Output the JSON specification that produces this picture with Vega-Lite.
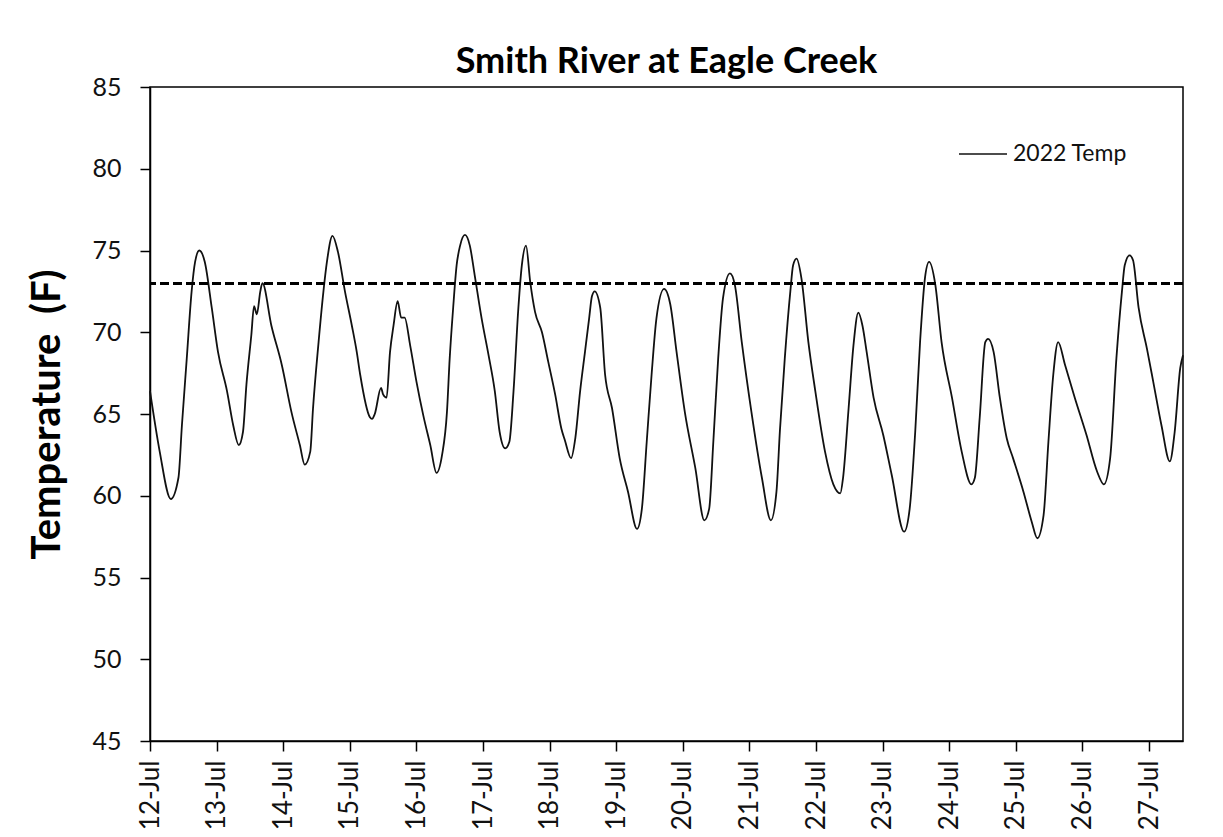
{
  "$schema": "https://vega.github.io/schema/vega-lite/v6.json",
  "width": 1033,
  "height": 654,
  "autosize": {"type": "none"},
  "padding": {"left": 150, "top": 87, "right": 40, "bottom": 96},
  "background": "white",
  "title": {"text": "Smith River at Eagle Creek", "fontSize": 36, "font": "Lato", "fontWeight": "bold", "color": "black", "anchor": "middle", "offset": -6},
  "config": {
    "font": "Lato",
    "view": {"stroke": "black", "strokeWidth": 1.5},
    "axis": {"domainColor": "black", "domainWidth": 1.5, "tickColor": "black", "tickWidth": 1.5, "tickSize": 10, "grid": false, "labelColor": "#111", "labelFont": "Lato", "titleFont": "Lato", "titleColor": "black"}
  },
  "data": {"values": [
    {"t": "2022-07-12T00:00", "temp": 66.4}, {"t": "2022-07-12T03:30", "temp": 62.7}, {"t": "2022-07-12T07:30", "temp": 59.8}, {"t": "2022-07-12T10:15", "temp": 61.1}, {"t": "2022-07-12T11:30", "temp": 64.3}, {"t": "2022-07-12T13:15", "temp": 68.4}, {"t": "2022-07-12T15:00", "temp": 72.5}, {"t": "2022-07-12T16:15", "temp": 74.3}, {"t": "2022-07-12T17:45", "temp": 75.0}, {"t": "2022-07-12T19:45", "temp": 74.3}, {"t": "2022-07-12T22:15", "temp": 71.5},
    {"t": "2022-07-13T00:30", "temp": 68.8}, {"t": "2022-07-13T03:45", "temp": 66.4}, {"t": "2022-07-13T06:00", "temp": 64.3}, {"t": "2022-07-13T08:00", "temp": 63.1}, {"t": "2022-07-13T09:30", "temp": 63.9}, {"t": "2022-07-13T10:45", "temp": 66.8}, {"t": "2022-07-13T12:30", "temp": 69.8}, {"t": "2022-07-13T13:30", "temp": 71.6}, {"t": "2022-07-13T14:30", "temp": 71.1}, {"t": "2022-07-13T15:45", "temp": 72.5}, {"t": "2022-07-13T16:30", "temp": 73.0}, {"t": "2022-07-13T19:45", "temp": 70.4}, {"t": "2022-07-13T23:30", "temp": 68.0},
    {"t": "2022-07-14T03:00", "temp": 65.1}, {"t": "2022-07-14T06:00", "temp": 63.1}, {"t": "2022-07-14T07:45", "temp": 61.9}, {"t": "2022-07-14T09:45", "temp": 62.7}, {"t": "2022-07-14T10:45", "temp": 65.35}, {"t": "2022-07-14T12:45", "temp": 69.4}, {"t": "2022-07-14T14:30", "temp": 72.5}, {"t": "2022-07-14T15:45", "temp": 74.3}, {"t": "2022-07-14T17:45", "temp": 75.9}, {"t": "2022-07-14T19:45", "temp": 74.9}, {"t": "2022-07-14T22:15", "temp": 72.5},
    {"t": "2022-07-15T00:45", "temp": 70.4}, {"t": "2022-07-15T02:30", "temp": 68.8}, {"t": "2022-07-15T03:45", "temp": 67.4}, {"t": "2022-07-15T07:15", "temp": 64.8}, {"t": "2022-07-15T08:00", "temp": 64.7}, {"t": "2022-07-15T09:00", "temp": 65.0}, {"t": "2022-07-15T11:15", "temp": 66.6}, {"t": "2022-07-15T12:00", "temp": 66.2}, {"t": "2022-07-15T13:15", "temp": 66.0}, {"t": "2022-07-15T14:30", "temp": 68.8}, {"t": "2022-07-15T15:45", "temp": 70.4}, {"t": "2022-07-15T17:15", "temp": 71.9}, {"t": "2022-07-15T18:30", "temp": 70.9}, {"t": "2022-07-15T19:45", "temp": 70.9}, {"t": "2022-07-15T21:45", "temp": 69.2},
    {"t": "2022-07-16T00:00", "temp": 67.0}, {"t": "2022-07-16T02:30", "temp": 64.9}, {"t": "2022-07-16T05:00", "temp": 63.1}, {"t": "2022-07-16T07:15", "temp": 61.4}, {"t": "2022-07-16T09:15", "temp": 62.5}, {"t": "2022-07-16T11:00", "temp": 65.1}, {"t": "2022-07-16T12:00", "temp": 68.4}, {"t": "2022-07-16T13:15", "temp": 71.5}, {"t": "2022-07-16T14:30", "temp": 74.1}, {"t": "2022-07-16T15:45", "temp": 75.3}, {"t": "2022-07-16T17:30", "temp": 75.95}, {"t": "2022-07-16T19:15", "temp": 75.3}, {"t": "2022-07-16T21:00", "temp": 73.5}, {"t": "2022-07-16T23:30", "temp": 70.85},
    {"t": "2022-07-17T02:00", "temp": 68.6}, {"t": "2022-07-17T04:15", "temp": 66.4}, {"t": "2022-07-17T06:00", "temp": 63.9}, {"t": "2022-07-17T08:00", "temp": 62.9}, {"t": "2022-07-17T09:30", "temp": 63.3}, {"t": "2022-07-17T11:00", "temp": 66.4}, {"t": "2022-07-17T12:45", "temp": 71.5}, {"t": "2022-07-17T14:00", "temp": 74.1}, {"t": "2022-07-17T15:30", "temp": 75.3}, {"t": "2022-07-17T17:00", "temp": 73.1}, {"t": "2022-07-17T18:45", "temp": 71.25}, {"t": "2022-07-17T21:15", "temp": 70.0}, {"t": "2022-07-17T23:30", "temp": 68.2},
    {"t": "2022-07-18T02:00", "temp": 66.2}, {"t": "2022-07-18T04:15", "temp": 64.1}, {"t": "2022-07-18T05:30", "temp": 63.4}, {"t": "2022-07-18T07:45", "temp": 62.3}, {"t": "2022-07-18T09:15", "temp": 63.5}, {"t": "2022-07-18T11:00", "temp": 66.4}, {"t": "2022-07-18T12:45", "temp": 68.8}, {"t": "2022-07-18T14:15", "temp": 70.85}, {"t": "2022-07-18T15:15", "temp": 72.2}, {"t": "2022-07-18T16:15", "temp": 72.5}, {"t": "2022-07-18T18:15", "temp": 71.5}, {"t": "2022-07-18T20:00", "temp": 67.4}, {"t": "2022-07-18T22:30", "temp": 65.35},
    {"t": "2022-07-19T01:15", "temp": 62.3}, {"t": "2022-07-19T04:15", "temp": 60.25}, {"t": "2022-07-19T07:30", "temp": 57.97}, {"t": "2022-07-19T09:15", "temp": 59.2}, {"t": "2022-07-19T11:00", "temp": 63.3}, {"t": "2022-07-19T12:45", "temp": 67.4}, {"t": "2022-07-19T14:30", "temp": 70.85}, {"t": "2022-07-19T17:15", "temp": 72.65}, {"t": "2022-07-19T19:30", "temp": 71.7}, {"t": "2022-07-19T21:45", "temp": 68.8},
    {"t": "2022-07-20T00:45", "temp": 65.1}, {"t": "2022-07-20T04:30", "temp": 61.7}, {"t": "2022-07-20T07:45", "temp": 58.5}, {"t": "2022-07-20T09:30", "temp": 59.2}, {"t": "2022-07-20T11:00", "temp": 63.3}, {"t": "2022-07-20T12:45", "temp": 68.4}, {"t": "2022-07-20T14:30", "temp": 72.1}, {"t": "2022-07-20T17:00", "temp": 73.6}, {"t": "2022-07-20T18:45", "temp": 72.9}, {"t": "2022-07-20T21:15", "temp": 69.4},
    {"t": "2022-07-21T00:45", "temp": 65.1}, {"t": "2022-07-21T04:30", "temp": 61.1}, {"t": "2022-07-21T07:45", "temp": 58.5}, {"t": "2022-07-21T09:45", "temp": 60.25}, {"t": "2022-07-21T11:00", "temp": 64.0}, {"t": "2022-07-21T12:45", "temp": 68.4}, {"t": "2022-07-21T14:45", "temp": 72.5}, {"t": "2022-07-21T15:45", "temp": 74.1}, {"t": "2022-07-21T17:00", "temp": 74.5}, {"t": "2022-07-21T18:45", "temp": 73.3}, {"t": "2022-07-21T21:15", "temp": 69.4}, {"t": "2022-07-21T23:45", "temp": 66.4},
    {"t": "2022-07-22T03:15", "temp": 62.7}, {"t": "2022-07-22T06:15", "temp": 60.7}, {"t": "2022-07-22T08:45", "temp": 60.15}, {"t": "2022-07-22T09:45", "temp": 61.1}, {"t": "2022-07-22T11:45", "temp": 65.35}, {"t": "2022-07-22T13:30", "temp": 69.2}, {"t": "2022-07-22T15:15", "temp": 71.2}, {"t": "2022-07-22T16:45", "temp": 70.4}, {"t": "2022-07-22T18:15", "temp": 68.8}, {"t": "2022-07-22T20:45", "temp": 66.0},
    {"t": "2022-07-23T00:15", "temp": 63.7}, {"t": "2022-07-23T03:15", "temp": 61.3}, {"t": "2022-07-23T07:45", "temp": 57.8}, {"t": "2022-07-23T09:45", "temp": 59.2}, {"t": "2022-07-23T11:45", "temp": 63.9}, {"t": "2022-07-23T13:30", "temp": 69.4}, {"t": "2022-07-23T15:15", "temp": 73.3}, {"t": "2022-07-23T16:45", "temp": 74.3}, {"t": "2022-07-23T19:00", "temp": 72.9}, {"t": "2022-07-23T21:15", "temp": 69.4},
    {"t": "2022-07-24T01:00", "temp": 66.0}, {"t": "2022-07-24T04:30", "temp": 62.7}, {"t": "2022-07-24T08:00", "temp": 60.7}, {"t": "2022-07-24T09:15", "temp": 61.1}, {"t": "2022-07-24T11:00", "temp": 64.8}, {"t": "2022-07-24T13:00", "temp": 69.4}, {"t": "2022-07-24T14:00", "temp": 69.6}, {"t": "2022-07-24T16:00", "temp": 68.8}, {"t": "2022-07-24T18:15", "temp": 66.0}, {"t": "2022-07-24T20:45", "temp": 63.5}, {"t": "2022-07-24T23:00", "temp": 62.3},
    {"t": "2022-07-25T02:45", "temp": 60.25}, {"t": "2022-07-25T05:45", "temp": 58.4}, {"t": "2022-07-25T07:45", "temp": 57.4}, {"t": "2022-07-25T10:00", "temp": 58.8}, {"t": "2022-07-25T11:45", "temp": 63.3}, {"t": "2022-07-25T13:30", "temp": 67.4}, {"t": "2022-07-25T15:15", "temp": 69.4}, {"t": "2022-07-25T17:45", "temp": 68.0}, {"t": "2022-07-25T21:15", "temp": 66.0},
    {"t": "2022-07-26T01:30", "temp": 63.7}, {"t": "2022-07-26T05:15", "temp": 61.5}, {"t": "2022-07-26T07:45", "temp": 60.7}, {"t": "2022-07-26T10:00", "temp": 62.3}, {"t": "2022-07-26T12:15", "temp": 68.4}, {"t": "2022-07-26T14:15", "temp": 72.5}, {"t": "2022-07-26T15:15", "temp": 74.1}, {"t": "2022-07-26T17:00", "temp": 74.7}, {"t": "2022-07-26T18:15", "temp": 74.4}, {"t": "2022-07-26T20:15", "temp": 71.5}, {"t": "2022-07-26T23:15", "temp": 69.0},
    {"t": "2022-07-27T01:30", "temp": 67.0}, {"t": "2022-07-27T04:30", "temp": 64.3}, {"t": "2022-07-27T07:30", "temp": 62.1}, {"t": "2022-07-27T09:15", "temp": 63.9}, {"t": "2022-07-27T11:15", "temp": 67.8}, {"t": "2022-07-27T12:15", "temp": 68.6}
  ]},
  "encoding": {
    "x": {"field": "t", "type": "temporal",
      "scale": {"domain": [{"year": 2022, "month": 7, "date": 12}, {"year": 2022, "month": 7, "date": 27, "hours": 12, "minutes": 15}], "nice": false},
      "axis": {"title": null, "format": "%-d-%b", "tickCount": {"interval": "day", "step": 1}, "labelAngle": -90, "labelAlign": "right", "labelBaseline": "middle", "labelPadding": 9, "labelFontSize": 26, "labelOverlap": false, "labelBound": false, "labelFlush": false}
    },
    "y": {"field": "temp", "type": "quantitative",
      "scale": {"domain": [45, 85], "nice": false, "zero": false},
      "axis": {"title": "Temperature \u00a0(F)", "values": [45, 50, 55, 60, 65, 70, 75, 80, 85], "labelFontSize": 25, "labelPadding": 19, "titleFontSize": 40, "titleFontWeight": "bold", "titlePadding": 24}
    }
  },
  "layer": [
    {
      "mark": {"type": "line", "strokeWidth": 1.8, "interpolate": "monotone"},
      "encoding": {
        "color": {"datum": "2022 Temp", "type": "nominal", "scale": {"range": ["#111111"]},
          "legend": {"title": null, "orient": "none", "legendX": 808, "legendY": 42, "symbolType": "stroke", "symbolSize": 2304, "symbolStrokeWidth": 1.5, "labelFontSize": 23, "labelFont": "Lato", "labelColor": "#111", "labelOffset": 5, "padding": 0}
        }
      }
    },
    {
      "mark": {"type": "rule", "strokeDash": [9, 4], "strokeWidth": 2.5, "color": "black"},
      "encoding": {"y": {"datum": 73}, "x": null}
    }
  ]
}
